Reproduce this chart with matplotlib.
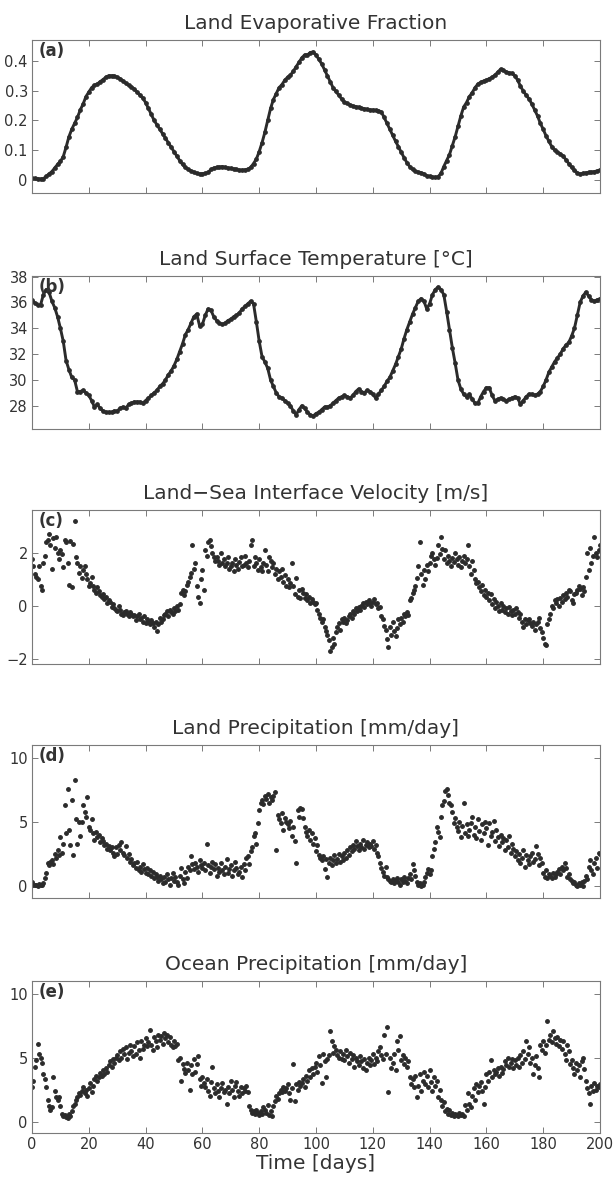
import numpy as np
import matplotlib

matplotlib.use("Agg")
import matplotlib.pyplot as plt

plt.rcParams["font.family"] = ["DejaVu Sans"]

# Panel titles and labels
TITLES = [
    "Land Evaporative Fraction",
    "Land Surface Temperature [\u00b0C]",
    "Land\u2212Sea Interface Velocity [m/s]",
    "Land Precipitation [mm/day]",
    "Ocean Precipitation [mm/day]",
]
PANEL_TAGS = ["(a)", "(b)", "(c)", "(d)", "(e)"]
X_TICKS = [0, 20, 40, 60, 80, 100, 120, 140, 160, 180, 200]

# (a) land evaporative fraction, one value per day 0..200
evap_frac = [
    0.005, 0.005, 0.004, 0.003, 0.004, 0.012, 0.02, 0.028, 0.04, 0.052,
    0.062, 0.078, 0.11, 0.145, 0.17, 0.19, 0.21, 0.235, 0.255, 0.28,
    0.295, 0.31, 0.318, 0.322, 0.33, 0.337, 0.345, 0.35, 0.35, 0.349,
    0.345, 0.34, 0.333, 0.325, 0.318, 0.313, 0.305, 0.295, 0.285, 0.275,
    0.26, 0.24, 0.22, 0.2, 0.185, 0.17, 0.155, 0.14, 0.125, 0.11,
    0.095, 0.08, 0.065, 0.052, 0.042, 0.035, 0.03, 0.026, 0.022, 0.02,
    0.021, 0.022, 0.025, 0.035, 0.04, 0.042, 0.043, 0.045, 0.042, 0.04,
    0.039, 0.037, 0.035, 0.033, 0.033, 0.034, 0.036, 0.042, 0.055, 0.07,
    0.095, 0.125, 0.16, 0.2, 0.24, 0.27, 0.29, 0.31, 0.32, 0.335,
    0.345, 0.352, 0.365, 0.38, 0.395, 0.41, 0.42, 0.42, 0.428, 0.43,
    0.42, 0.405, 0.39, 0.37, 0.35, 0.33, 0.31, 0.297, 0.285, 0.272,
    0.262, 0.257, 0.252, 0.248, 0.246, 0.244, 0.241, 0.239, 0.237, 0.235,
    0.235, 0.234, 0.233, 0.228, 0.21, 0.19, 0.17, 0.15, 0.13, 0.112,
    0.093, 0.075, 0.058, 0.045, 0.035, 0.029, 0.026, 0.024, 0.02, 0.014,
    0.012, 0.01, 0.009, 0.011, 0.022, 0.045, 0.065, 0.085, 0.115, 0.145,
    0.18, 0.215, 0.245, 0.26, 0.28, 0.293, 0.31, 0.322, 0.328, 0.332,
    0.335, 0.34, 0.345, 0.352, 0.362, 0.372, 0.368, 0.363, 0.36, 0.358,
    0.35, 0.335, 0.315, 0.298, 0.285, 0.272, 0.255, 0.235, 0.215, 0.19,
    0.17, 0.148, 0.13, 0.112, 0.1, 0.093, 0.088, 0.08, 0.068, 0.055,
    0.042, 0.032, 0.024, 0.02, 0.022, 0.024, 0.025, 0.026, 0.028, 0.03,
    0.034,
]

# (b) land surface temperature [C], one value per day 0..200
land_temp = [
    36.2, 35.95, 35.8, 35.8, 36.6, 37.0, 36.8, 36.1, 35.6, 34.9,
    34.0, 33.0, 31.5, 30.8, 30.2, 30.0, 29.1, 29.1, 29.2, 29.0,
    28.8, 28.4, 27.9, 28.1, 27.8, 27.6, 27.5, 27.5, 27.5, 27.6,
    27.6, 27.8, 27.9, 27.8, 28.1, 28.2, 28.3, 28.3, 28.3, 28.2,
    28.4, 28.6, 28.8, 29.0, 29.2, 29.5, 29.7, 30.0, 30.4, 30.7,
    31.1, 31.6, 32.2, 32.8, 33.5, 33.9, 34.4, 34.9, 35.1, 34.2,
    34.3, 35.0, 35.5, 35.4, 34.9, 34.6, 34.4, 34.3, 34.4, 34.6,
    34.7, 34.9, 35.0, 35.2, 35.5, 35.7, 35.9, 36.1, 35.9, 34.5,
    33.0, 31.8, 31.4, 30.9, 30.0, 29.5, 29.0, 28.7, 28.6, 28.4,
    28.2, 28.0, 27.6, 27.3, 27.7, 28.0, 27.8, 27.5, 27.3, 27.2,
    27.4, 27.5, 27.7, 27.9, 27.9, 28.0, 28.2, 28.4, 28.6, 28.7,
    28.8, 28.7, 28.6, 28.8, 29.1, 29.3, 29.1, 29.0, 29.2, 29.1,
    28.9, 28.6, 28.9, 29.2, 29.5, 29.9, 30.2, 30.7, 31.2, 31.8,
    32.4, 33.2, 33.9, 34.5, 35.1, 35.6, 36.1, 36.3, 36.1, 35.5,
    35.9, 36.6, 37.0, 37.2, 37.0, 36.6, 35.3, 33.9, 32.5, 31.3,
    30.0, 29.3, 28.9, 28.7, 28.9, 28.5, 28.2, 28.2, 28.7, 29.1,
    29.4, 29.4, 28.8, 28.4, 28.5, 28.6, 28.5, 28.4, 28.5, 28.6,
    28.7, 28.6, 28.1, 28.4, 28.7, 28.9, 28.9, 28.8, 28.9, 29.1,
    29.5, 30.0, 30.6, 31.0, 31.4, 31.7, 32.0, 32.4, 32.7, 32.9,
    33.4, 34.0, 35.0, 36.0, 36.5, 36.8, 36.5, 36.2, 36.1, 36.2,
    36.3,
]

# (c) land-sea interface velocity [m/s], two values per day 0..200
interface_vel = [
    1.75, 1.5, 1.2, 1.1, 1.0, 1.5, 0.75, 0.6, 1.6, 1.9,
    2.4, 2.5, 2.7, 2.3, 1.4, 2.55, 2.2, 2.6, 2.0, 1.75,
    2.1, 1.95, 1.45, 2.5, 2.4, 1.6, 0.8, 2.45, 0.7, 2.35,
    3.2, 1.85, 1.6, 1.25, 1.5, 1.05, 1.35, 1.5, 1.2, 1.0,
    0.75, 0.85, 1.1, 0.75, 0.6, 0.5, 0.7, 0.55, 0.4, 0.35,
    0.45, 0.25, 0.35, 0.1, 0.2, 0.15, -0.05, 0.05, -0.1, -0.15,
    -0.2, 0.0, -0.15, -0.3, -0.35, -0.25, -0.2, -0.3, -0.4, -0.25,
    -0.3, -0.4, -0.35, -0.55, -0.4, -0.3, -0.5, -0.45, -0.6, -0.4,
    -0.65, -0.5, -0.6, -0.7, -0.55, -0.65, -0.8, -0.6, -0.95, -0.7,
    -0.45, -0.6, -0.5, -0.35, -0.3, -0.2, -0.4, -0.15, -0.25, -0.3,
    -0.1, -0.2, 0.0, -0.15, 0.05, 0.5, 0.6, 0.4, 0.55, 0.8,
    0.9, 1.1, 1.25, 2.3, 1.4, 1.6, 0.75, 0.35, 0.1, 1.0,
    1.35, 0.6, 2.1, 1.9, 2.4, 2.5, 2.25, 2.0, 1.85, 1.7,
    1.85, 1.7, 1.55, 2.0, 1.6, 1.75, 1.5, 1.6, 1.85, 1.4,
    1.5, 1.6, 1.3, 1.75, 1.55, 1.4, 1.65, 1.85, 1.5, 1.55,
    1.9, 1.6, 1.45, 1.7, 2.3, 2.5, 1.5, 1.85, 1.6, 1.35,
    1.75, 1.45, 1.3, 1.6, 2.1, 1.55, 1.3, 1.85, 1.7, 1.45,
    1.6, 1.2, 1.4, 1.0, 1.3, 1.1, 1.4, 0.9, 1.15, 0.75,
    1.0, 0.7, 0.85, 1.6, 0.75, 0.45, 1.05, 0.35, 0.6, 0.3,
    0.65, 0.5, 0.3, 0.45, 0.2, 0.35, 0.1, 0.25, 0.15, 0.05,
    0.1, -0.15, -0.3, -0.45, -0.6, -0.5, -0.8, -0.95, -1.1, -1.3,
    -1.7, -1.55, -1.2, -1.45, -1.0, -0.8, -0.65, -0.9, -0.5, -0.6,
    -0.45, -0.65, -0.55, -0.4, -0.3, -0.45, -0.2, -0.3, -0.1, -0.2,
    -0.05, -0.15, 0.0, 0.1, -0.05, 0.15, 0.05, 0.2, 0.1, 0.0,
    0.15, 0.25, 0.05, 0.1, -0.1, -0.05, -0.4, -0.5, -0.75, -0.9,
    -1.25, -1.55, -0.8, -1.1, -0.6, -0.95, -1.15, -0.85, -0.5, -0.7,
    -0.45, -0.6, -0.3, -0.4, -0.25, -0.35, 0.2, 0.3, 0.5, 0.6,
    0.75, 1.05, 1.5, 2.4, 1.2, 0.8, 1.35, 1.0, 1.55, 1.3,
    1.6, 1.9, 2.0, 1.75, 1.55, 1.8, 2.3, 1.95, 2.6, 2.15,
    1.75, 2.1, 1.6, 1.9, 1.7, 1.5, 1.8, 1.65, 2.0, 1.75,
    1.55, 1.85, 1.45, 1.7, 1.9, 1.6, 1.75, 2.3, 1.5, 1.2,
    1.7, 1.35, 1.0, 0.85, 0.9, 0.7, 0.55, 0.8, 0.4, 0.6,
    0.35, 0.5, 0.2, 0.45, 0.05, 0.25, -0.1, 0.15, 0.0, -0.2,
    0.1, -0.15, 0.0, -0.25, -0.1, -0.3, -0.05, -0.2, -0.35, -0.15,
    -0.3, -0.1, -0.25, -0.45, -0.3, -0.6, -0.8, -0.5, -0.7, -0.55,
    -0.5, -0.65, -0.75, -0.6, -0.9, -0.7, -0.6, -0.45, -0.85, -1.0,
    -1.2, -1.45, -1.5, -0.7, -0.5, -0.3, 0.0, -0.1, 0.2, 0.1,
    0.25, 0.0, 0.3, 0.15, 0.4, 0.25, 0.5, 0.35, 0.6, 0.55,
    0.2, 0.1, 0.45, 0.5, 0.6, 0.75, 0.65, 0.4, 0.7, 0.55,
    1.1, 2.0, 1.35, 2.2, 1.6, 1.9, 2.6, 2.0, 1.85, 2.1,
    2.3,
]

# (d) land precipitation [mm/day], two values per day 0..200
land_precip = [
    0.3, 0.1, 0.05, 0.1, 0.0, 0.15, 0.1, 0.05, 0.2, 0.6,
    1.0, 1.8, 1.6, 1.9, 2.0, 1.7, 2.5, 2.2, 2.8, 2.4,
    3.8, 2.6, 3.3, 6.3, 4.1, 7.6, 4.4, 3.2, 6.7, 2.4,
    8.3, 5.2, 3.3, 5.0, 3.9, 5.0, 6.3, 5.8, 5.4, 6.9,
    4.6, 4.4, 5.2, 4.1, 3.6, 4.2, 3.8, 4.0, 3.4, 3.7,
    3.5, 3.2, 3.3, 2.9, 3.1, 2.8, 3.0, 2.6, 2.3, 3.0,
    2.5, 3.2, 2.8, 3.4, 2.6, 2.4, 3.1, 2.2, 2.5, 1.9,
    2.1, 1.6, 1.8, 1.4, 1.9, 1.2, 1.5, 1.1, 1.7, 1.3,
    1.0, 1.4, 0.9, 1.2, 0.8, 1.1, 0.6, 0.9, 0.7, 0.4,
    0.8, 0.5, 0.2, 0.7, 0.3, 0.9, 0.5, 0.1, 0.6, 1.0,
    0.4, 0.7, 0.3, 0.1, 0.8, 1.4, 0.5, 0.2, 1.1, 0.6,
    1.5, 1.2, 2.3, 1.7, 1.3, 1.8, 1.5, 1.1, 2.0, 1.6,
    1.4, 1.8, 1.2, 3.3, 1.6, 1.0, 1.5, 1.9, 1.3, 1.7,
    0.8, 1.4, 1.1, 1.8, 1.2, 0.9, 1.5, 2.1, 1.0, 1.3,
    1.6, 0.8, 1.2, 1.9, 1.4, 0.9, 1.1, 1.5, 0.7, 1.7,
    1.2, 2.2, 2.3, 1.7, 2.7, 3.0, 3.9, 4.1, 3.3, 4.9,
    5.9, 6.5, 6.7, 6.4, 7.0, 6.8, 7.2, 6.5, 6.9, 6.7,
    7.0, 7.3, 2.8, 5.5, 5.2, 4.9, 5.7, 4.4, 5.3, 5.0,
    4.8, 4.5, 5.1, 3.9, 4.6, 3.5, 1.8, 5.9, 5.4, 6.1,
    6.0, 5.3, 4.6, 4.2, 3.9, 4.4, 3.6, 4.1, 3.3, 3.7,
    2.7, 3.2, 2.4, 2.2, 2.0, 2.3, 1.3, 2.1, 0.7, 1.8,
    2.2, 1.6, 2.0, 2.4, 1.8, 2.1, 2.5, 1.9, 2.3, 2.0,
    2.6, 2.2, 2.8, 2.4, 3.0, 2.7, 3.2, 2.9, 3.5, 3.1,
    2.8, 3.3, 3.0, 3.6, 2.9, 3.2, 3.4, 3.0, 3.3, 3.1,
    3.5, 2.9, 3.2, 2.6, 2.3, 1.8, 1.4, 1.1, 0.8, 1.5,
    0.7, 0.5, 0.4, 0.3, 0.5, 0.2, 0.4, 0.6, 0.3, 0.1,
    0.5, 0.3, 0.7, 0.4, 0.2, 0.6, 0.9, 0.5, 1.7, 1.2,
    0.8, 0.3, 0.1, 0.2, 0.0, 0.1, 0.3, 0.7, 1.0, 1.3,
    0.9, 1.2, 2.3, 2.9, 3.4, 4.6, 4.2, 3.8, 5.4, 6.3,
    6.6, 7.4, 7.6, 7.1, 6.5, 6.3, 5.8, 4.9, 5.3, 4.6,
    4.3, 5.0, 3.8, 4.7, 6.5, 4.1, 4.8, 3.9, 4.4, 4.9,
    5.4, 4.0, 4.6, 3.7, 5.2, 4.3, 3.6, 4.8, 4.1, 5.0,
    4.5, 3.2, 4.9, 3.9, 4.2, 5.1, 3.5, 4.4, 3.8, 3.1,
    4.0, 3.4, 3.7, 2.8, 3.6, 3.0, 3.9, 2.6, 3.3, 2.9,
    2.3, 2.7, 2.0, 2.5, 1.8, 2.2, 2.8, 1.5, 2.4, 2.0,
    1.7, 2.3, 2.6, 1.9, 2.1, 3.1, 2.5, 1.6, 2.2, 1.8,
    1.0, 0.7, 1.2, 0.6, 0.9, 0.8, 0.6, 1.0, 0.7, 0.9,
    1.1, 1.3, 0.9, 1.5, 1.2, 1.8, 1.4, 0.7, 0.9, 0.5,
    0.4, 0.2, 0.3, 0.1, 0.0, 0.2, 0.1, 0.3, 0.0, 0.4,
    0.8, 0.5, 1.5, 2.0, 1.2, 0.9, 1.8, 2.2, 1.4, 2.6,
    2.5,
]

# (e) ocean precipitation [mm/day], two values per day 0..200
ocean_precip = [
    2.7, 3.2, 4.3, 4.8, 6.1, 5.3, 5.0, 4.6, 3.7, 3.3,
    2.7, 1.7, 1.2, 0.9, 1.1, 3.5, 2.4, 1.9, 1.7, 1.9,
    1.2, 0.6, 0.4, 0.5, 0.35, 0.3, 0.6, 0.4, 0.8, 1.2,
    1.4, 1.7, 1.9, 2.2, 2.1, 2.4, 2.7, 2.2, 2.5, 2.0,
    2.6, 3.0, 2.3, 2.8, 3.3, 3.6, 3.2, 3.5, 3.8, 3.6,
    4.0, 3.7, 4.2, 3.9, 4.4, 4.7, 4.3, 4.9, 4.6, 5.0,
    5.2, 4.8, 5.5, 5.0, 5.7, 5.3, 5.8, 4.9, 5.4, 6.0,
    5.5, 5.1, 5.9, 5.3, 6.2, 5.6, 5.0, 6.3, 5.7, 6.0,
    6.5, 5.9, 6.2, 7.2, 6.0, 5.6, 6.6, 6.3, 5.8, 6.8,
    6.4, 6.7, 6.1, 6.9, 6.5, 6.8, 6.2, 6.6, 6.0, 5.8,
    6.3, 5.9, 6.1, 4.8, 5.0, 3.2, 4.5, 4.1, 3.8, 4.6,
    4.0, 2.5, 4.4, 3.7, 4.9, 3.9, 4.5, 5.1, 3.3, 2.8,
    3.5, 3.0, 2.7, 3.3, 2.4, 2.0, 3.1, 4.3, 2.6, 2.2,
    2.9, 2.4, 1.9, 2.6, 3.0, 2.3, 2.5, 1.4, 2.7, 2.2,
    3.2, 2.5, 1.9, 2.8, 3.1, 2.4, 2.0, 2.7, 2.2, 2.6,
    2.4, 2.8, 2.3, 1.2, 0.9, 0.7, 0.8, 0.6, 0.9, 0.7,
    0.5, 0.8, 0.6, 1.1, 0.9, 0.7, 1.3, 0.5, 0.8, 0.4,
    1.2, 1.6, 2.0, 1.8, 2.2, 2.5, 2.3, 2.7, 2.4, 2.6,
    2.9, 2.2, 1.7, 2.6, 4.5, 1.6, 2.9, 2.5, 3.1, 2.8,
    3.0, 3.3, 2.7, 3.6, 3.2, 4.0, 3.5, 4.2, 3.7, 4.3,
    4.6, 3.9, 5.1, 4.4, 3.0, 5.3, 4.7, 3.5, 4.9, 5.2,
    7.1, 6.3, 5.4, 5.9, 5.6, 5.2, 5.0, 5.5, 4.9, 5.3,
    4.8, 5.6, 5.1, 4.6, 5.4, 4.9, 5.2, 4.3, 5.0, 4.7,
    4.4, 5.1, 4.7, 4.2, 4.9, 4.0, 4.6, 5.0, 4.4, 4.8,
    5.3, 4.5, 5.0, 4.7, 5.5, 5.8, 5.2, 4.9, 6.8, 5.3,
    7.4, 2.3, 5.0, 4.2, 4.6, 5.3, 4.0, 6.3, 5.6, 6.7,
    4.8, 5.2, 4.5, 5.0, 4.3, 4.7, 3.5, 2.9, 3.3, 2.7,
    3.6, 1.9, 2.8, 3.7, 2.4, 3.2, 3.9, 2.9, 3.6, 2.7,
    4.0, 3.1, 2.4, 3.5, 2.8, 3.2, 1.9, 2.5, 1.7, 1.2,
    1.5, 0.8, 1.0, 0.6, 0.9, 0.5, 0.7, 0.4, 0.6, 0.5,
    0.4, 0.7, 0.5, 0.6, 0.4, 1.3, 0.9, 2.2, 1.4, 1.1,
    2.0, 2.6, 1.7, 2.9, 2.3, 2.8, 3.1, 2.4, 1.4, 2.7,
    3.7, 3.2, 3.9, 4.8, 3.5, 4.0, 3.7, 3.9, 4.2, 3.6,
    4.3, 3.8, 4.1, 4.7, 4.4, 5.0, 4.3, 4.6, 4.9, 4.2,
    4.8, 4.4, 5.0, 4.3, 5.2, 4.6, 5.5, 4.9, 6.3, 5.3,
    5.8, 4.6, 5.0, 3.7, 4.4, 5.1, 4.2, 3.5, 6.0, 5.6,
    6.3, 5.4, 6.0, 7.9, 6.4, 6.8, 6.2, 7.1, 6.5, 6.1,
    6.6, 5.9, 6.4, 5.7, 6.3, 5.3, 4.8, 6.0, 5.5, 4.5,
    4.8, 4.2, 3.7, 4.6, 4.0, 4.4, 3.5, 4.7, 5.0, 4.1,
    3.2, 2.6, 2.2, 1.4, 2.8, 2.4, 3.0, 2.5, 2.8, 2.7,
    2.9,
]

SERIES = [evap_frac, land_temp, interface_vel, land_precip, ocean_precip]

# y axis setup per panel
Y_LIMS = [(-0.044, 0.47), (26.2, 38.05), (-2.2, 3.62), (-0.95, 11.0), (-0.9, 11.0)]
Y_TICKS = [[0, 0.1, 0.2, 0.3, 0.4], [28, 30, 32, 34, 36, 38], [-2, 0, 2], [0, 5, 10], [0, 5, 10]]
Y_TICK_LABELS = [
    ["0", "0.1", "0.2", "0.3", "0.4"],
    ["28", "30", "32", "34", "36", "38"],
    ["\u22122", "0", "2"],
    ["0", "5", "10"],
    ["0", "5", "10"],
]

# axes frames in pixels (top, bottom)
W_PX, H_PX = 613, 1183
LEFT_PX, RIGHT_PX = 32, 600
FRAMES_PX = [(40, 193), (276, 429), (510, 664), (745, 898), (981, 1133)]

DOT = "#2b2b2b"
FRAME = "#7a7a7a"
TEXT = "#333333"

fig = plt.figure(figsize=(W_PX / 100, H_PX / 100), dpi=100, facecolor="white")

for i, values in enumerate(SERIES):
    top, bottom = FRAMES_PX[i]
    ax = fig.add_axes(
        [
            LEFT_PX / W_PX,
            1 - bottom / H_PX,
            (RIGHT_PX - LEFT_PX) / W_PX,
            (bottom - top) / H_PX,
        ]
    )
    days = np.linspace(0, 200, len(values))

    if i < 2:
        # smooth daily curves: dense dots that merge into a thick line
        ax.plot(days, values, color=DOT, lw=2.1, marker="o", ms=2.4,
                mec=DOT, mfc=DOT, solid_capstyle="round", solid_joinstyle="round")
    else:
        ax.plot(days, values, ls="none", color=DOT, marker="o", ms=2.5,
                mec=DOT, mfc=DOT)

    ax.set_xlim(0, 200)
    ax.set_ylim(*Y_LIMS[i])
    ax.set_xticks(X_TICKS)
    ax.set_yticks(Y_TICKS[i])
    ax.set_yticklabels(Y_TICK_LABELS[i])
    if i < 4:
        ax.set_xticklabels([])
    else:
        ax.set_xlabel("Time [days]", fontsize=14.5, color=TEXT, labelpad=1)

    # MATLAB-like box with inward ticks on all sides
    ax.tick_params(direction="in", length=4, width=0.7, color=FRAME,
                   top=True, right=True, labelsize=10.5, labelcolor=TEXT, pad=3)
    for sp in ax.spines.values():
        sp.set_color(FRAME)
        sp.set_linewidth(0.8)

    ax.set_title(TITLES[i], fontsize=14.5, color=TEXT, pad=8)
    ax.text(0.012, 0.985, PANEL_TAGS[i], transform=ax.transAxes,
            fontsize=12, fontweight="bold", color=TEXT, va="top", ha="left")

fig.savefig("out.png", dpi=100, facecolor="white")
